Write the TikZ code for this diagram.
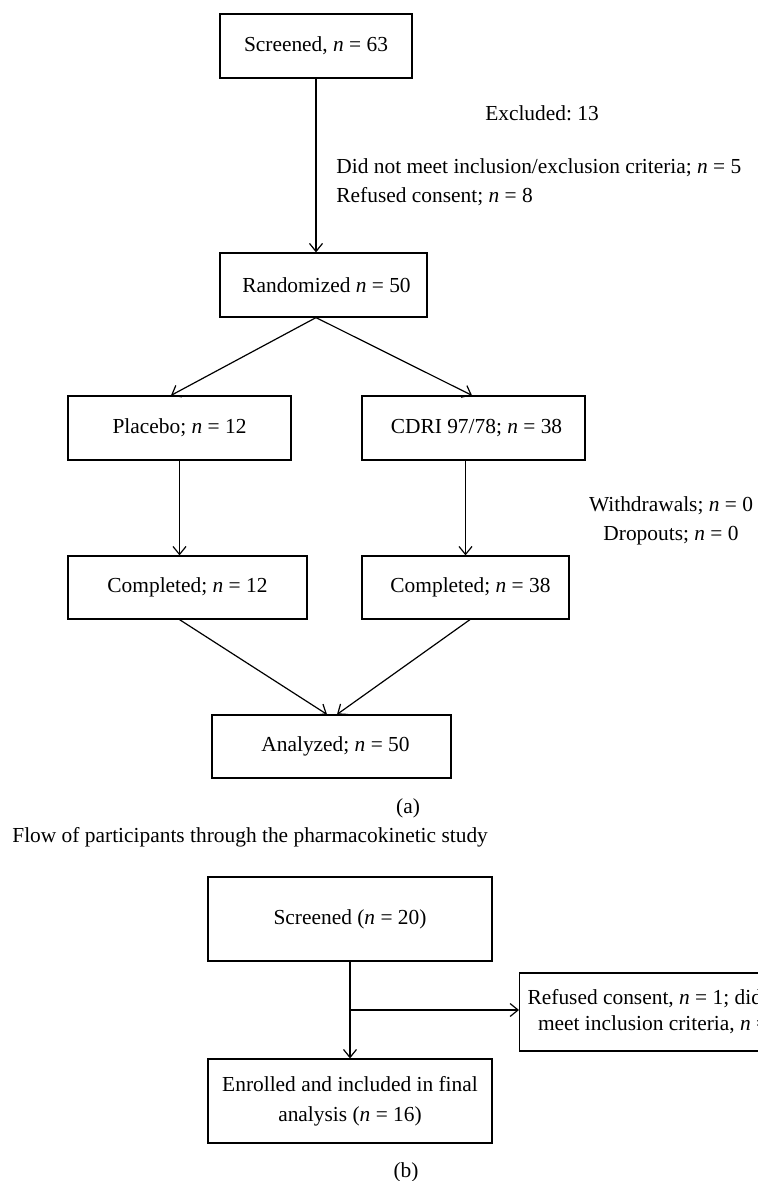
\documentclass[tikz,border=0pt]{standalone}
\usepackage{fontspec}
\setmainfont{Liberation Serif}
\usepackage{tikz}
\usetikzlibrary{arrows.meta,calc,positioning}
\newcommand{\nval}[1]{\textit{n} = #1}
\tikzset{
  box/.style={draw, line width=0.6pt, align=center, inner sep=0pt},
  arr/.style={-{Straight Barb[length=4pt,width=6.5pt]}, line width=0.6pt},
  note/.style={inner sep=0pt, font=\fontsize{10.7}{14.5}\selectfont},
}

\begin{document}
\frenchspacing
\begin{tikzpicture}[x=0.5pt,y=-0.5pt,font=\fontsize{10.7}{14.5}\selectfont]
  \useasboundingbox (0,0) rectangle (758,1181);
  \clip (0,0) rectangle (758,1181);
  \node[box, minimum width=96pt, minimum height=32pt] (scr) at (316,46) {Screened, \nval{63}};
  \node[box, minimum width=103.5pt, minimum height=32pt] (rand) at (323.5,285) {\hspace{3pt}Randomized \nval{50}};
  \node[box, minimum width=111.5pt, minimum height=32pt] (plac) at (179.5,428) {Placebo; \nval{12}};
  \node[box, minimum width=111.5pt, minimum height=32pt] (cdri) at (473.5,428) {\hspace{3pt}CDRI 97/78; \nval{38}};
  \node[box, minimum width=119.5pt, minimum height=31.5pt] (compl) at (187.5,587.5) {Completed; \nval{12}};
  \node[box, minimum width=103.5pt, minimum height=31.5pt] (compr) at (465.5,587.5) {\hspace{5pt}Completed; \nval{38}};
  \node[box, minimum width=119.5pt, minimum height=31.5pt] (anal) at (331.5,746.5) {\hspace{4pt}Analyzed; \nval{50}};
  \node[note] (excl) at (542,113) {Excluded: 13};
  \node[note, anchor=west, align=left] (crit) at (336,182.5) {Did not meet inclusion/exclusion criteria; \nval{5}\\Refused consent; \nval{8}};
  \node[note, align=center] (wdr) at (671,521) {Withdrawals; \nval{0}\\Dropouts; \nval{0}};
  \node[note] (capa) at (408,808) {(a)};
  \node[note, anchor=west] (title) at (12,837) {Flow of participants through the pharmacokinetic study};
  \node[box, minimum width=142pt, minimum height=42pt] (scrb) at (350,919) {Screened (\nval{20})};
  \node[box, minimum width=142pt, minimum height=42pt, font=\fontsize{10.7}{15}\selectfont] (enrl) at (350,1101) {Enrolled and included in final\\analysis (\nval{16})};
  \node[box, anchor=west, minimum height=39pt, inner xsep=4pt, font=\fontsize{10.7}{13}\selectfont] (refu) at (519,1012) {Refused consent, \nval{1}; did not\\meet inclusion criteria, \nval{3}};
  \node[note] (capb) at (406,1172) {(b)};
  \coordinate (split) at (scr.south |- rand.south);
  \coordinate (br) at ($(scrb.south)!0.5!(enrl.north)$);
  \draw[arr] (scr.south) -- (scr.south |- rand.north);
  \draw[arr] (split) -- ([xshift=-4.25pt]plac.north);
  \draw[arr] (split) -- ([xshift=-0.75pt]cdri.north);
  \draw[arr] (plac.south) -- (plac.south |- compl.north);
  \draw[arr] (compr.north |- cdri.south) -- (compr.north);
  \draw[arr] (plac.south |- compl.south) -- ([xshift=-2.25pt]anal.north);
  \draw[arr] ([xshift=2.25pt]compr.south) -- ([xshift=2.75pt]anal.north);
  \draw[arr] (scrb.south) -- (enrl.north);
  \draw[arr] (br) -- (br -| refu.west);
\end{tikzpicture}
\end{document}
